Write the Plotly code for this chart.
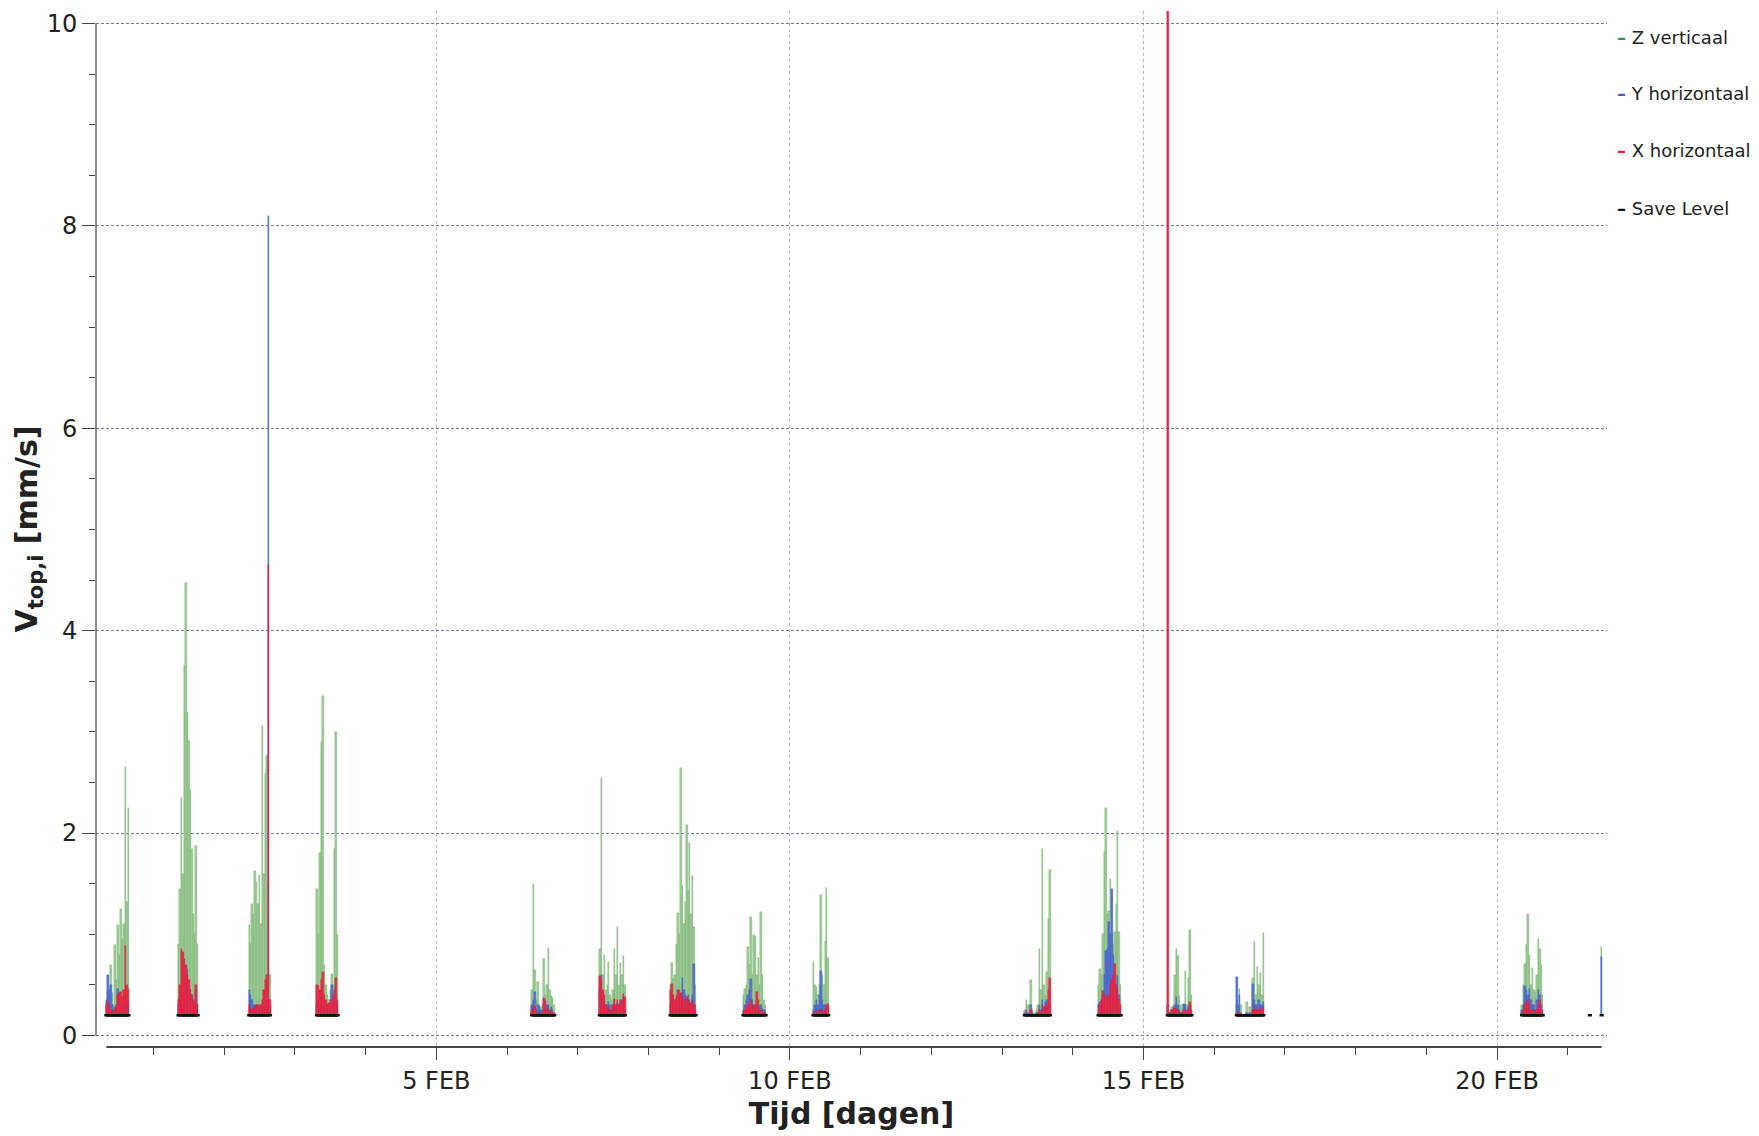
import pandas as pd
import plotly.graph_objects as go

# Vibration measurements: peak particle velocity per direction, sampled every 30 min
SAMPLE_MINUTES = 30
SAVE_LEVEL = 0.2  # mm/s

BURST_START = [
    "2019-01-31 08:00", "2019-02-01 08:30", "2019-02-02 08:30", "2019-02-03 07:30",
    "2019-02-06 08:30", "2019-02-07 07:30", "2019-02-08 07:30", "2019-02-09 08:15",
    "2019-02-10 08:00", "2019-02-13 07:45", "2019-02-14 08:45", "2019-02-15 08:15",
    "2019-02-16 07:40", "2019-02-20 08:30", "2019-02-21 07:30", "2019-02-21 11:30",
]

Z_VALUES = [
    [0.30, 0.45, 0.38, 0.70, 0.42, 0.30, 0.89, 0.55, 1.09, 0.80, 1.25, 0.95, 1.10, 2.65, 1.32, 2.25],
    [0.90, 1.45, 2.35, 1.60, 3.65, 4.47, 3.19, 2.91, 2.43, 1.84, 1.20, 1.00, 1.87, 0.90],
    [1.09, 0.90, 1.30, 1.20, 1.63, 1.52, 1.30, 1.59, 1.10, 3.06, 1.60, 2.58, 2.76, 1.50, 0.60],
    [1.45, 1.00, 1.80, 2.90, 3.35, 0.70, 0.50, 0.40, 0.35, 0.45, 0.61, 0.50, 1.84, 3.00, 0.99],
    [0.45, 1.50, 0.65, 0.35, 0.53, 0.30, 0.28, 0.30, 0.76, 0.40, 0.50, 0.86, 0.45, 0.39, 0.37, 0.30],
    [0.85, 2.54, 0.60, 0.80, 0.45, 0.50, 0.73, 0.40, 0.35, 0.45, 0.85, 0.60, 1.07, 0.50, 0.72, 0.60, 0.79, 0.50],
    [0.50, 0.72, 0.56, 0.60, 0.90, 1.21, 1.00, 2.64, 1.48, 1.10, 1.32, 2.08, 1.43, 1.90, 1.20, 1.58, 1.07, 0.50],
    [0.40, 0.46, 0.50, 0.87, 0.70, 1.17, 0.60, 0.99, 0.97, 0.60, 0.77, 0.50, 1.22, 0.60, 0.35, 0.30],
    [0.73, 0.50, 0.48, 0.40, 0.50, 1.39, 0.60, 0.50, 0.93, 1.46, 0.77],
    [0.25, 0.35, 0.30, 0.30, 0.55, 0.25, 0.22, 0.22, 0.25, 0.30, 0.85, 0.45, 1.84, 0.50, 0.40, 0.63, 1.15, 1.64],
    [0.50, 0.66, 0.60, 1.00, 1.81, 2.25, 1.20, 1.23, 1.55, 1.00, 0.90, 1.02, 1.30, 2.02, 1.02, 0.50],
    [0.30, 0.22, 0.25, 0.28, 0.29, 0.60, 0.85, 0.79, 0.39, 0.30, 0.26, 0.30, 0.64, 0.30, 0.57, 1.04, 0.40],
    [0.30, 0.22, 0.46, 0.30, 0.20, 0.20, 0.22, 0.33, 0.22, 0.28, 0.22, 0.57, 0.92, 0.40, 0.68, 0.50, 0.62, 0.40, 1.01],
    [0.30, 0.50, 0.71, 0.89, 1.20, 0.80, 0.50, 0.67, 0.45, 0.43, 0.60, 0.95, 0.85, 0.70, 0.40],
    [0.20],
    [0.87],
]

Y_VALUES = [
    [0.35, 0.60, 0.45, 0.50, 0.30, 0.25, 0.28, 0.30, 0.46, 0.35, 0.30, 0.28, 0.30, 0.40, 0.30, 0.32],
    [0.30, 0.35, 0.40, 0.50, 0.55, 0.60, 0.66, 0.50, 0.45, 0.40, 0.35, 0.30, 0.45, 0.30],
    [0.45, 0.40, 0.35, 0.30, 0.30, 0.28, 0.30, 0.25, 0.30, 0.30, 0.28, 0.30, 0.35, 8.10, 0.30],
    [0.30, 0.35, 0.30, 0.40, 0.35, 0.30, 0.25, 0.30, 0.30, 0.35, 0.50, 0.30, 0.35, 0.40, 0.30],
    [0.30, 0.35, 0.43, 0.25, 0.30, 0.28, 0.25, 0.22, 0.30, 0.35, 0.30, 0.30, 0.25, 0.28, 0.25, 0.22],
    [0.45, 0.60, 0.40, 0.35, 0.30, 0.30, 0.33, 0.30, 0.25, 0.30, 0.35, 0.30, 0.32, 0.30, 0.35, 0.30, 0.38, 0.30],
    [0.30, 0.40, 0.35, 0.30, 0.35, 0.40, 0.45, 0.40, 0.57, 0.45, 0.40, 0.35, 0.40, 0.35, 0.30, 0.40, 0.71, 0.30],
    [0.25, 0.30, 0.35, 0.40, 0.45, 0.56, 0.35, 0.30, 0.30, 0.30, 0.30, 0.28, 0.30, 0.26, 0.25, 0.22],
    [0.25, 0.30, 0.35, 0.30, 0.40, 0.64, 0.35, 0.30, 0.30, 0.30, 0.28],
    [0.22, 0.25, 0.22, 0.22, 0.30, 0.22, 0.20, 0.20, 0.22, 0.22, 0.30, 0.25, 0.35, 0.28, 0.33, 0.35, 0.30, 0.32],
    [0.30, 0.33, 0.30, 0.40, 0.60, 0.83, 0.85, 1.12, 1.00, 1.45, 0.80, 0.60, 0.50, 0.59, 0.40, 0.30],
    [0.30, 0.22, 0.22, 0.25, 0.25, 0.30, 0.38, 0.30, 0.25, 0.22, 0.22, 0.31, 0.30, 0.25, 0.28, 0.30, 0.25],
    [0.58, 0.30, 0.40, 0.22, 0.20, 0.20, 0.20, 0.22, 0.20, 0.22, 0.22, 0.51, 0.35, 0.30, 0.30, 0.35, 0.30, 0.30, 0.33],
    [0.25, 0.30, 0.49, 0.45, 0.40, 0.46, 0.35, 0.30, 0.30, 0.25, 0.35, 0.45, 0.40, 0.30, 0.25],
    [0.20],
    [0.78],
]

X_VALUES = [
    [0.30, 0.33, 0.28, 0.25, 0.24, 0.22, 0.26, 0.30, 0.40, 0.42, 0.43, 0.38, 0.45, 0.88, 0.50, 0.46],
    [0.35, 0.50, 0.85, 0.82, 0.76, 0.70, 0.60, 0.55, 0.45, 0.40, 0.30, 0.35, 0.50, 0.30],
    [0.30, 0.28, 0.25, 0.25, 0.28, 0.30, 0.30, 0.28, 0.30, 0.35, 0.45, 0.55, 0.60, 4.65, 0.35],
    [0.50, 0.49, 0.45, 0.55, 0.63, 0.40, 0.35, 0.30, 0.32, 0.30, 0.35, 0.40, 0.45, 0.57, 0.35],
    [0.25, 0.30, 0.28, 0.22, 0.22, 0.22, 0.22, 0.22, 0.37, 0.33, 0.25, 0.28, 0.22, 0.25, 0.22, 0.22],
    [0.59, 0.55, 0.45, 0.40, 0.30, 0.25, 0.28, 0.25, 0.22, 0.30, 0.36, 0.30, 0.35, 0.30, 0.33, 0.35, 0.41, 0.38],
    [0.45, 0.51, 0.40, 0.35, 0.38, 0.45, 0.40, 0.42, 0.38, 0.35, 0.30, 0.38, 0.35, 0.30, 0.32, 0.35, 0.30, 0.25],
    [0.22, 0.25, 0.28, 0.30, 0.30, 0.35, 0.30, 0.28, 0.30, 0.43, 0.35, 0.25, 0.25, 0.22, 0.22, 0.22],
    [0.22, 0.22, 0.25, 0.22, 0.25, 0.25, 0.25, 0.22, 0.25, 0.28, 0.31],
    [0.20, 0.22, 0.20, 0.20, 0.25, 0.20, 0.20, 0.20, 0.20, 0.22, 0.25, 0.22, 0.30, 0.25, 0.28, 0.30, 0.45, 0.57],
    [0.22, 0.30, 0.35, 0.44, 0.40, 0.38, 0.33, 0.40, 0.50, 0.55, 0.60, 0.71, 0.50, 0.45, 0.35, 0.30],
    [10.90, 0.22, 0.22, 0.25, 0.27, 0.27, 0.27, 0.25, 0.22, 0.22, 0.22, 0.25, 0.25, 0.22, 0.25, 0.33, 0.25],
    [0.22, 0.22, 0.22, 0.20, 0.20, 0.20, 0.20, 0.20, 0.20, 0.20, 0.20, 0.25, 0.29, 0.25, 0.25, 0.25, 0.27, 0.25, 0.28],
    [0.22, 0.25, 0.30, 0.32, 0.35, 0.30, 0.25, 0.22, 0.25, 0.22, 0.25, 0.30, 0.35, 0.25, 0.22],
    [0.20],
    [0.20],
]

X_TICK_VALUES = ["2019-02-05", "2019-02-10", "2019-02-15", "2019-02-20"]
X_TICK_LABELS = ["5 FEB", "10 FEB", "15 FEB", "20 FEB"]
Y_TICK_VALUES = [0, 2, 4, 6, 8, 10]

SERIES = [
    ("Z verticaal", Z_VALUES, "#9dce95", "#74a870", "#3f8f5c"),
    ("Y horizontaal", Y_VALUES, "#5573d8", "#3e5cc4", "#3f5fcf"),
    ("X horizontaal", X_VALUES, "#ef2b47", "#d81e3a", "#e8203c"),
]
SAVE_NAME = "Save Level"

FONT = "DejaVu Sans"


def burst_times(start, n):
    return list(pd.date_range(start, periods=n, freq=f"{SAMPLE_MINUTES}min"))


fig = go.Figure()

# stems: each reading drawn from the save level up to its value
for name, bursts, fill, edge, _ in SERIES:
    xs, ys = [], []
    for start, vals in zip(BURST_START, bursts):
        xs += burst_times(start, len(vals))
        ys += [v - SAVE_LEVEL for v in vals]
    fig.add_trace(go.Bar(
        x=xs, y=ys, base=SAVE_LEVEL, name=name,
        width=SAMPLE_MINUTES * 60 * 1000,
        marker=dict(color=fill, line=dict(color=edge, width=0.4)),
        showlegend=False,
    ))

# save level drawn under each measuring period
sx, sy = [], []
for start, vals in zip(BURST_START, Z_VALUES):
    t = burst_times(start, len(vals))
    sx += t + [None]
    sy += [SAVE_LEVEL] * len(t) + [None]
fig.add_trace(go.Scatter(
    x=sx, y=sy, name=SAVE_NAME, mode="lines+markers",
    line=dict(color="#111111", width=2.5),
    marker=dict(symbol="line-ew-open", size=3, line=dict(color="#111111", width=2.5)),
    showlegend=False,
))

all_times = [t for s, v in zip(BURST_START, Z_VALUES) for t in burst_times(s, len(v))]
t_first, t_last = min(all_times), max(all_times)

# axis lines
fig.add_shape(type="line", xref="x", yref="paper", x0=t_first, x1=t_last, y0=0, y1=0,
              line=dict(color="#444444", width=2))
fig.add_shape(type="line", xref="paper", yref="y", x0=0, x1=0, y0=0, y1=10,
              line=dict(color="#444444", width=1.2))

# legend entries
legend_items = [(n, c) for n, _, _, _, c in SERIES] + [(SAVE_NAME, "#111111")]
legend_y = [0.9749, 0.9199, 0.8649, 0.8089]
for (label, color), ly in zip(legend_items, legend_y):
    fig.add_annotation(
        xref="paper", yref="paper", x=1.0055, y=ly, xanchor="left", yanchor="middle",
        showarrow=False,
        text=f'<b><span style="color:{color}">–</span></b> {label}',
        font=dict(family=FONT, size=18, color="#222222"),
    )

fig.update_layout(
    width=1759, height=1136,
    margin=dict(l=96, r=152, t=11, b=89),
    paper_bgcolor="white", plot_bgcolor="white",
    barmode="overlay",
    bargap=0,
    font=dict(family=FONT, color="#222222"),
    xaxis=dict(
        type="date",
        range=["2019-01-31 04:29", "2019-02-21 13:19"],
        tickvals=X_TICK_VALUES, ticktext=X_TICK_LABELS,
        tickfont=dict(size=24, color="#222222"),
        ticks="outside", ticklen=12, tickwidth=1.2, tickcolor="#444444",
        minor=dict(dtick=86400000, tick0="2019-02-01", ticks="outside",
                   ticklen=7, tickwidth=1.2, tickcolor="#444444", showgrid=False),
        showgrid=True, gridcolor="#b5b5b5", griddash="3px,3px", gridwidth=1,
        showline=False, zeroline=False,
        title=dict(text="<b>Tijd [dagen]</b>", font=dict(size=30, color="#222222"), standoff=9),
    ),
    yaxis=dict(
        range=[-0.114, 10.124],
        tickvals=Y_TICK_VALUES,
        tickfont=dict(size=24, color="#222222"),
        ticks="outside", ticklen=13, tickwidth=1.2, tickcolor="#444444",
        minor=dict(dtick=0.5, tick0=0, ticks="outside", ticklen=6,
                   tickwidth=1.2, tickcolor="#444444", showgrid=False),
        showgrid=True, gridcolor="#6f79ad", griddash="3px,2px", gridwidth=1,
        showline=False, zeroline=False,
        title=dict(text="<b>V<sub>top,i</sub> [mm/s]</b>", font=dict(size=30, color="#222222"), standoff=0),
    ),
)

fig.write_html("out.html")
